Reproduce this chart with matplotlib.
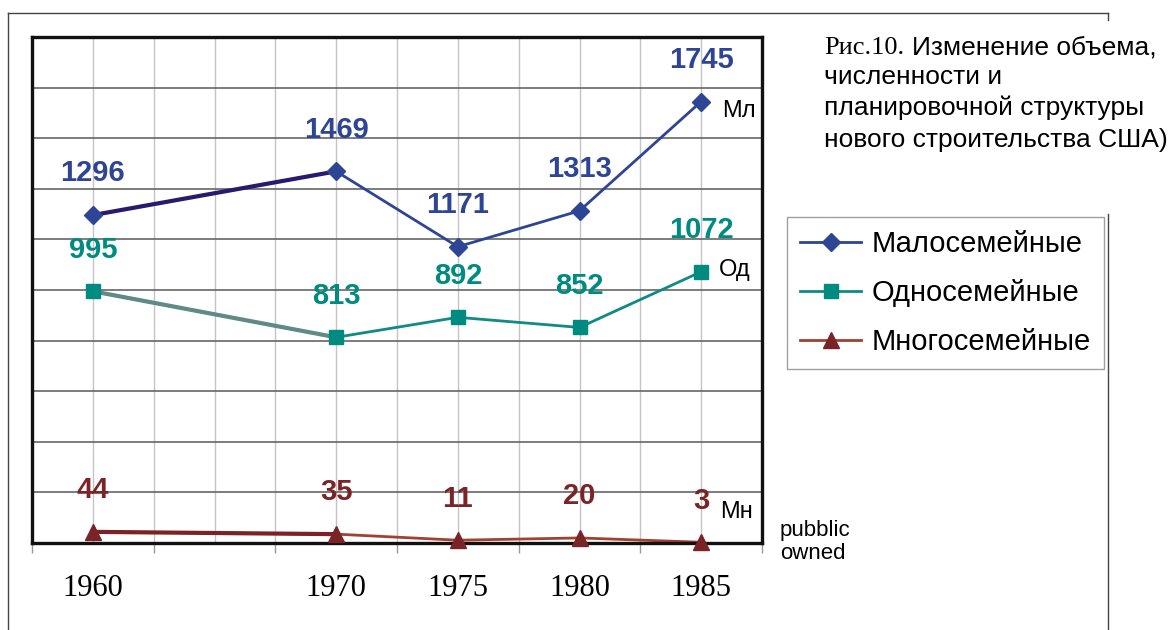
import matplotlib.pyplot as plt
from matplotlib.lines import Line2D
import numpy as np

years = [1960, 1970, 1975, 1980, 1985]
malo = [1296, 1469, 1171, 1313, 1745]
odno = [995, 813, 892, 852, 1072]
mnogo = [44, 35, 11, 20, 3]
names = ["Малосемейные", "Односемейные", "Многосемейные"]
short = ["Мл", "Од", "Мн"]

sans = "Liberation Sans"
serif = "Liberation Serif"

fig = plt.figure(figsize=(11.75, 6.3), dpi=100)
ax = fig.add_axes([32 / 1175, 1 - 543 / 630, 730 / 1175, 506 / 630])

# grid
for x in np.arange(1957.5, 1988, 2.5):
    ax.axvline(x, color="#c4c4c4", lw=1, zorder=0)
for y in range(200, 2000, 200):
    ax.axhline(y, color="#666666", lw=1.2, zorder=0)

series = [
    (malo, "#2e4494", "#2a1a6e", "D", 9.5, "#2e4494"),
    (odno, "#0f8a84", "#5f8a88", "s", 10, "#008b80"),
    (mnogo, "#a3402f", "#7a2226", "^", 12, "#7b2428"),
]
handles = []
for (vals, col, col0, mk, ms, tcol), nm, sh in zip(series, names, short):
    ax.plot(years, vals, color=col, lw=2, zorder=2)
    # first segment drawn darker as in the source
    ax.plot(years[:2], vals[:2], color=col0, lw=3, zorder=2)
    ax.plot(years, vals, ls="none", marker=mk, ms=ms, color=tcol, zorder=4, clip_on=False)
    for x, v in zip(years, vals):
        ax.annotate(str(v), (x, v), xytext=(0, 30), textcoords="offset points",
                    ha="center", va="center", fontsize=21, fontweight="bold",
                    color=tcol, family=sans)
    handles.append(Line2D([], [], color=col, lw=2, marker=mk, ms=ms, mfc=tcol, mec=tcol))

# short names at the line ends
ax.annotate(short[0], (years[-1], malo[-1]), xytext=(15, -7), textcoords="offset points",
            ha="left", va="center", fontsize=17, family=sans)
ax.annotate(short[1], (years[-1], odno[-1]), xytext=(13, 1), textcoords="offset points",
            ha="left", va="center", fontsize=17, family=sans)
ax.annotate(short[2], (years[-1], mnogo[-1]), xytext=(14, 22), textcoords="offset points",
            ha="left", va="center", fontsize=17, family=sans)

ax.set_xlim(1957.5, 1987.5)
ax.set_ylim(0, 2000)
ax.set_xticks(np.arange(1957.5, 1988, 5))
ax.set_xticklabels([])
ax.tick_params(axis="x", which="major", length=7, width=1, color="#999999")
ax.set_xticks(years, minor=True)
ax.set_xticklabels([str(y) for y in years], minor=True, fontsize=22, family=serif)
ax.tick_params(axis="x", which="minor", length=0, pad=22)
ax.set_yticks([])
for s in ax.spines.values():
    s.set_linewidth(2.4)
    s.set_color("#111111")
    s.set_zorder(3)

leg = fig.legend(handles, names, loc="upper left", bbox_to_anchor=(787 / 1175, 1 - 217 / 630),
                 prop={"family": sans, "size": 21}, frameon=True, fancybox=False,
                 edgecolor="#888888", handlelength=2.1, borderpad=0.45, labelspacing=0.72,
                 handletextpad=0.35, borderaxespad=0)
leg.get_frame().set_linewidth(1)

fig.text(824 / 1175, 1 - 48 / 630, "Рис.10.", family=serif, fontsize=19, va="center")
fig.text(912 / 1175, 1 - 48 / 630, "Изменение объема,", family=sans, fontsize=19, va="center")
fig.text(824 / 1175, 1 - 77 / 630, "численности и", family=sans, fontsize=19, va="center")
fig.text(824 / 1175, 1 - 108 / 630, "планировочной структуры", family=sans, fontsize=19, va="center")
fig.text(824 / 1175, 1 - 140 / 630, "нового строительства США)", family=sans, fontsize=19, va="center")

fig.text(780 / 1175, 1 - 542 / 630, "pubblic\nowned", family=sans, fontsize=16,
         va="center", linespacing=1.1)

# outer frame
fc = "#444444"
fig.add_artist(Line2D([8 / 1175, 1108 / 1175], [1 - 13 / 630, 1 - 13 / 630], color=fc, lw=1))
fig.add_artist(Line2D([8 / 1175, 8 / 1175], [1 - 13 / 630, 0], color=fc, lw=1))
fig.add_artist(Line2D([1108 / 1175, 1108 / 1175], [1 - 13 / 630, 1 - 20 / 630], color=fc, lw=1))
fig.add_artist(Line2D([1108 / 1175, 1108 / 1175], [1 - 214 / 630, 0], color=fc, lw=1))

fig.savefig("out.png", dpi=100)
